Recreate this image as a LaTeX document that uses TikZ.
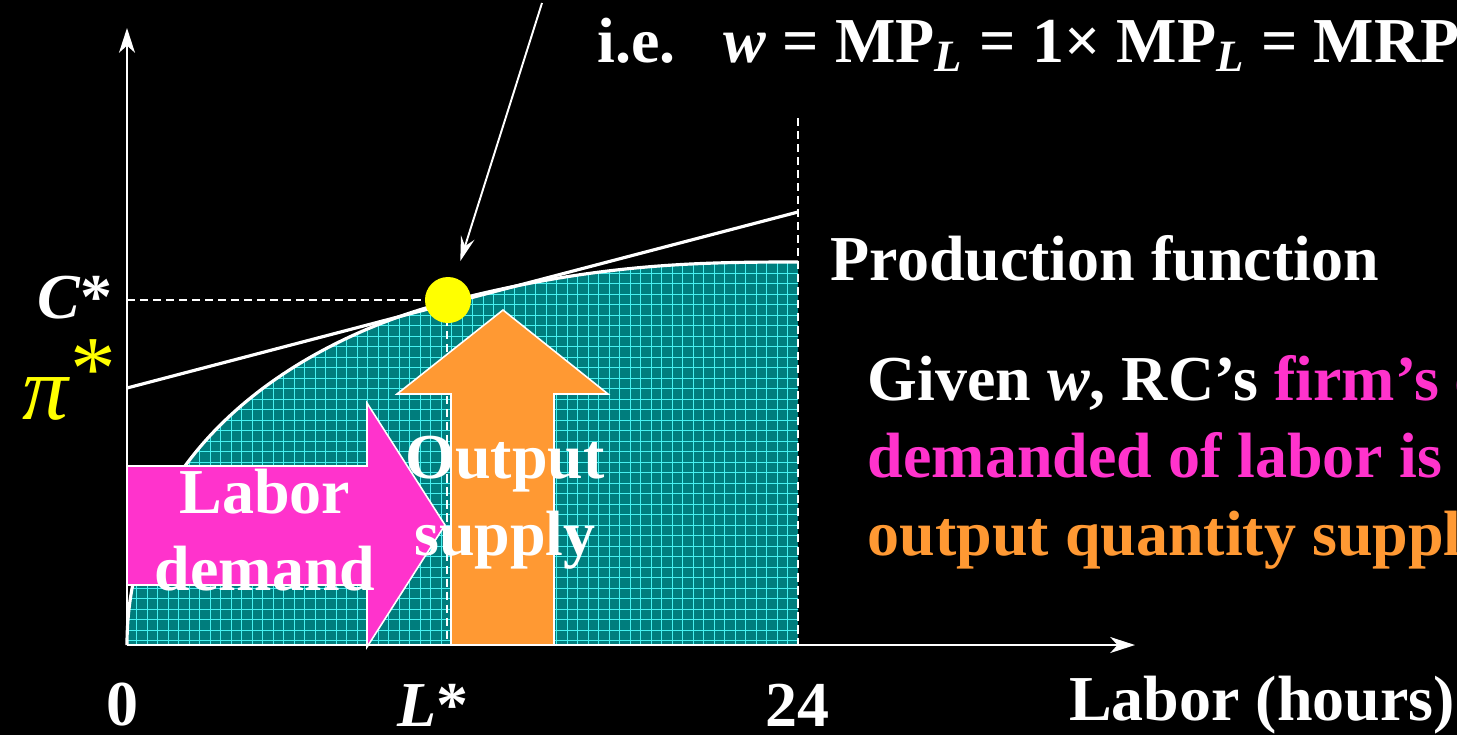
\documentclass[tikz,border=0pt]{standalone}
\usepackage{fontspec}
\setmainfont{Liberation Serif}
\usetikzlibrary{arrows.meta,positioning}
\definecolor{labpink}{RGB}{255,51,204}
\definecolor{outorange}{RGB}{255,153,51}
\definecolor{areateal}{RGB}{0,125,125}
\definecolor{gridcyan}{RGB}{70,240,240}
\definecolor{dotyellow}{RGB}{255,255,0}

\begin{document}
\begin{tikzpicture}[
      x=0.01cm, y=-0.01cm,
      txt/.style={text=white, font=\fontsize{18.2}{22}\selectfont\bfseries, inner sep=0pt},
      axis/.style={white, line width=0.7pt, -{Stealth[length=7pt,width=4.5pt,inset=2pt]}},
      pointer/.style={white, line width=0.55pt, -{Stealth[length=7pt,width=4pt,inset=2.5pt]}, shorten >=0.17cm},
      guide/.style={white, line width=0.7pt, dash pattern=on 2.3pt off 1.4pt},
      curve/.style={white, line width=0.9pt},
      blockarrow/.style={draw=white, line width=0.45pt, line join=miter}
    ]
      \useasboundingbox (0,0) rectangle (1457,735);
      \fill[black] (0,0) rectangle (1457,735);

      % production set
      \begin{scope}
        \clip (127,645) .. controls (127,450) and (297,341) .. (447,302)
              .. controls (597,263) and (700,262) .. (798,262) -- (798,645) -- cycle;
        \fill[areateal] (127,200) rectangle (800,650);
        \draw[gridcyan, line width=0.3pt, step=0.105cm] (120,200) grid (800,650);
      \end{scope}
      \draw[curve] (127,645) .. controls (127,450) and (297,341) .. (447,302)
              .. controls (597,263) and (700,262) .. (798,262);

      \coordinate (orig) at (127,645);
      \coordinate (ytop) at (127,28);
      \coordinate (xend) at (1135,645);
      \coordinate (cstar) at (127,300);
      \coordinate (lstar) at (447,645);
      \coordinate (topL) at (798,118);
      \coordinate (botL) at (798,645);
      \coordinate (tanA) at (127,388);
      \coordinate (tanB) at (798,212);
      \coordinate (ptrstart) at (542,3);

      \draw[guide] (cstar) -- (447,300) -- (lstar);
      \draw[guide] (topL) -- (botL);
      \draw[curve] (tanA) -- (tanB);

      \node[circle, fill=dotyellow, minimum size=0.46cm, inner sep=0pt] (opt) at (448,300) {};
      \draw[pointer] (ptrstart) -- (opt);

      % block arrows
      \draw[blockarrow, fill=labpink] (127,466) -- (367,466) -- (367,403) -- (445,525)
            -- (367,647) -- (367,585) -- (127,585) -- cycle;
      \draw[blockarrow, fill=outorange] (451,645) -- (451,394) -- (397,394) -- (503,310)
            -- (608,394) -- (554,394) -- (554,645) -- cycle;

      \draw[axis] (orig) -- (ytop);
      \draw[axis] (orig) -- (xend);

      \node[txt, align=center] (labdem) at (265,530) {Labor\\demand};
      \node[txt, align=center] (outsup) at (505,503) {Output\\supply};

      \node[txt, anchor=east] (clab) at (113,298) {\textit{C}*};
      \node[txt, text=dotyellow, anchor=east, font=\fontsize{26}{26}\selectfont] (pilab) at (117,380)
            {\textit{π}\raisebox{0.5ex}{*}};

      \node[txt] (zero) at (123,705) {0};
      \node[txt] (llab) at (433,705) {\textit{L}*};
      \node[txt] (hours) at (797,705) {24};
      \node[txt] (xlab) at (1262,705) {Labor (hours)};

      \node[txt, anchor=west] (prodfn) at (830,258) {Production function};
      \node[txt, anchor=west] (mrp) at (597,45)
            {i.e.\enspace\ \textit{w} = MP\textsubscript{\textit{L}} = 1× MP\textsubscript{\textit{L}} = MRP\textsubscript{\textit{L}}};
      \node[txt, anchor=west, align=left] (given) at (867,462)
            {Given \textit{w}, RC’s \textcolor{labpink}{firm’s quantity}\\
             \textcolor{labpink}{demanded of labor is \textit{L}*}\\
             \textcolor{outorange}{output quantity supplied}};
    \end{tikzpicture}
\end{document}
